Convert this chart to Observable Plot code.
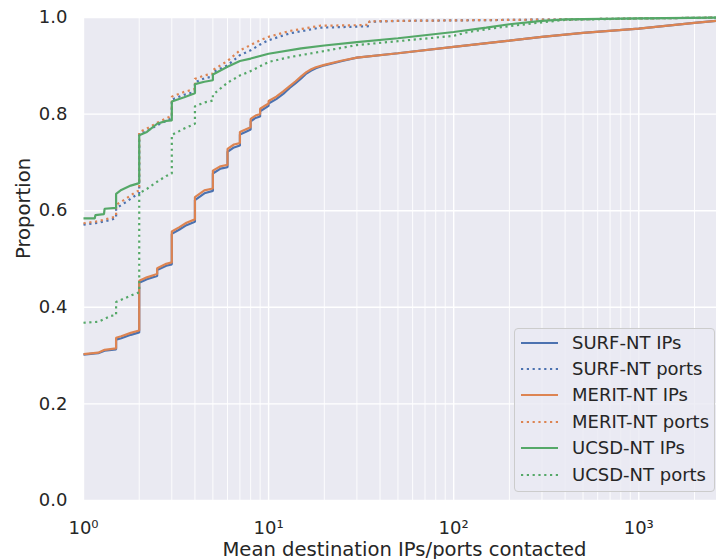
<!DOCTYPE html>
<html>
<head>
<meta charset="utf-8">
<script src="https://cdn.jsdelivr.net/npm/d3@7"></script>
<script src="https://cdn.jsdelivr.net/npm/@observablehq/plot@0.6"></script>
<style>
html, body { margin: 0; padding: 0; background: #ffffff; }
#wrap { position: relative; width: 716px; height: 559px; overflow: hidden; font-family: "DejaVu Sans", sans-serif; }
#chart svg { max-width: none !important; width: 725px; height: 559px; display: block; }
#legend { position: absolute; left: 514px; top: 328px; width: 201px; height: 164px; box-sizing: border-box;
  border: 1px solid #cccccc; border-radius: 4px; background: rgba(234,234,242,0.8); }
.row { position: absolute; left: 0; height: 26px; width: 200px; }
.row svg { position: absolute; left: 6px; top: 0; }
.row span { position: absolute; left: 57px; top: 0; line-height: 26px; font-size: 18px; color: #262626; white-space: nowrap; }
</style>
</head>
<body>
<div id="wrap"><div id="chart"></div><div id="legend"></div></div>
<script>
// ---- data (ECDF step points; repeated x = vertical jump) ----
const surfIPsX  = [1, 1.2, 1.3, 1.5, 1.5, 1.6, 1.8, 2, 2, 2.2, 2.5, 2.5, 2.8, 3, 3, 3.3, 3.6, 4, 4, 4.5, 5, 5, 5.5, 6, 6, 6.5, 7, 7, 7.5, 8, 8, 8.5, 9, 9, 10, 10, 11, 12, 13, 14, 15, 16, 17, 18, 20, 25, 30, 50, 100, 200, 300, 500, 1000, 2000, 2942];
const surfIPsY  = [.302, .305, .310, .313, .333, .336, .343, .348, .451, .458, .465, .477, .486, .489, .552, .561, .570, .577, .622, .636, .641, .677, .687, .690, .722, .731, .735, .758, .763, .768, .785, .792, .795, .806, .817, .822, .831, .842, .854, .864, .874, .884, .890, .895, .901, .910, .917, .926, .939, .952, .960, .968, .977, .989, .995];
const meritIPsX = surfIPsX;
const meritIPsY = [.303, .306, .312, .315, .337, .340, .347, .352, .455, .462, .469, .481, .490, .493, .557, .566, .575, .582, .628, .642, .646, .683, .692, .695, .728, .737, .740, .763, .768, .773, .790, .797, .800, .811, .822, .827, .836, .847, .858, .868, .878, .887, .893, .897, .902, .911, .917, .926, .939, .952, .960, .968, .977, .989, .995];
const ucsdIPsX  = [1, 1.15, 1.16, 1.29, 1.3, 1.5, 1.5, 1.6, 1.8, 2, 2, 2.2, 2.5, 2.8, 3, 3, 3.5, 4, 4, 4.5, 5, 5, 6, 7, 8, 10, 15, 20, 30, 50, 100, 150, 200, 300, 400, 1000, 2942];
const ucsdIPsY  = [.584, .584, .591, .593, .604, .606, .635, .643, .652, .657, .756, .763, .780, .786, .787, .826, .835, .843, .862, .867, .870, .882, .898, .910, .915, .925, .936, .942, .949, .957, .970, .979, .986, .993, .996, .998, 1.0];

const portsX     = [1, 1.2, 1.4, 1.5, 1.5, 1.7, 1.9, 2, 2, 2.2, 2.5, 2.9, 3, 3, 3.5, 4, 4, 4.5, 5, 5, 6, 7, 8, 9, 10, 13, 19, 30, 35, 35, 50, 100, 200, 380, 1000, 2942];
const surfPortsY  = [.571, .575, .581, .585, .605, .618, .631, .636, .758, .765, .777, .789, .792, .830, .840, .846, .866, .874, .878, .887, .901, .922, .932, .944, .953, .967, .979, .981, .982, .991, .993, .994, .995, .996, .998, 1.0];
const meritPortsY = [.574, .578, .585, .588, .612, .625, .638, .642, .763, .770, .782, .794, .797, .836, .846, .852, .873, .880, .884, .891, .910, .932, .943, .953, .960, .972, .983, .984, .985, .992, .993, .994, .995, .996, .998, 1.0];
const ucsdPortsX = [1, 1.2, 1.3, 1.4, 1.5, 1.5, 1.7, 1.9, 2, 2, 2.2, 2.5, 2.8, 3, 3, 3.5, 4, 4, 4.5, 5, 5, 6, 7, 8, 10, 13, 19, 30, 50, 100, 120, 180, 300, 400, 1000, 2942];
const ucsdPortsY = [.368, .370, .376, .382, .384, .411, .420, .428, .431, .636, .645, .660, .672, .677, .757, .770, .780, .816, .824, .828, .840, .865, .880, .889, .908, .918, .929, .943, .951, .962, .970, .980, .990, .995, .998, 1.0];

const seriesNames  = ["SURF-NT IPs", "SURF-NT ports", "MERIT-NT IPs", "MERIT-NT ports", "UCSD-NT IPs", "UCSD-NT ports"];
const seriesColors = ["#4C72B0", "#4C72B0", "#DD8452", "#DD8452", "#55A868", "#55A868"];
const seriesDotted = [false, true, false, true, false, true];
const seriesXs = [surfIPsX, portsX, meritIPsX, portsX, ucsdIPsX, ucsdPortsX];
const seriesYs = [surfIPsY, surfPortsY, meritIPsY, meritPortsY, ucsdIPsY, ucsdPortsY];

const xMajorTicks = [1, 10, 100, 1000];
const xTickLabels = ["10\u2070", "10\u00b9", "10\u00b2", "10\u00b3"];
const yTicks = [0, 0.2, 0.4, 0.6, 0.8, 1.0];
const xLabel = "Mean destination IPs/ports contacted";
const yLabel = "Proportion";

// ---- build ----
const xMinor = [];
for (const d of [1, 10, 100, 1000]) for (let m = 2; m <= 9; m++) if (d * m < 2942) xMinor.push(d * m);

const lineMarks = seriesNames.map((name, i) => {
  const rows = seriesXs[i].map((x, j) => ({x, y: seriesYs[i][j]}));
  return Plot.line(rows, {
    x: "x", y: "y", stroke: seriesColors[i], strokeWidth: 2.2,
    strokeDasharray: seriesDotted[i] ? "2.2,3.6" : null,
    strokeLinecap: "butt", strokeLinejoin: "miter"
  });
});

const chart = Plot.plot({
  width: 725, height: 559,
  marginLeft: 83, marginRight: 0, marginTop: 17, marginBottom: 59,
  style: {fontFamily: "DejaVu Sans", background: "transparent", overflow: "visible", maxWidth: "none"},
  x: {type: "log", domain: [1, 2942]},
  y: {domain: [0, 1]},
  marks: [
    Plot.frame({fill: "#EAEAF2", stroke: null}),
    Plot.ruleX(xMinor, {stroke: "#ffffff", strokeWidth: 0.9}),
    Plot.ruleX(xMajorTicks, {stroke: "#ffffff", strokeWidth: 1.4}),
    Plot.ruleY(yTicks, {stroke: "#ffffff", strokeWidth: 1.4}),
    ...lineMarks,
    Plot.axisX({ticks: xMajorTicks, tickFormat: (d) => xTickLabels[xMajorTicks.indexOf(d)], tickSize: 0, tickPadding: 21, fontSize: 18, color: "#262626", label: null}),
    Plot.axisY({ticks: yTicks, tickFormat: d3.format(".1f"), tickSize: 0, tickPadding: 16, fontSize: 18, color: "#262626", label: null}),
    Plot.text([xLabel], {frameAnchor: "bottom", dy: 55, lineAnchor: "bottom", fontSize: 19.6, fill: "#262626"}),
    Plot.text([yLabel], {frameAnchor: "left", rotate: -90, dx: -54, lineAnchor: "bottom", fontSize: 19.6, fill: "#262626"})
  ]
});
document.getElementById("chart").appendChild(chart);

// ---- legend ----
const legend = document.getElementById("legend");
seriesNames.forEach((name, i) => {
  const row = document.createElement("div");
  row.className = "row";
  row.style.top = (0.5 + i * 26.46) + "px";
  const dash = seriesDotted[i] ? ' stroke-dasharray="2.2,3.6"' : '';
  row.innerHTML = `<svg width="40" height="26"><line x1="0" x2="37" y1="13" y2="13" stroke="${seriesColors[i]}" stroke-width="2.2"${dash}/></svg><span>${name}</span>`;
  legend.appendChild(row);
});
</script>
</body>
</html>
